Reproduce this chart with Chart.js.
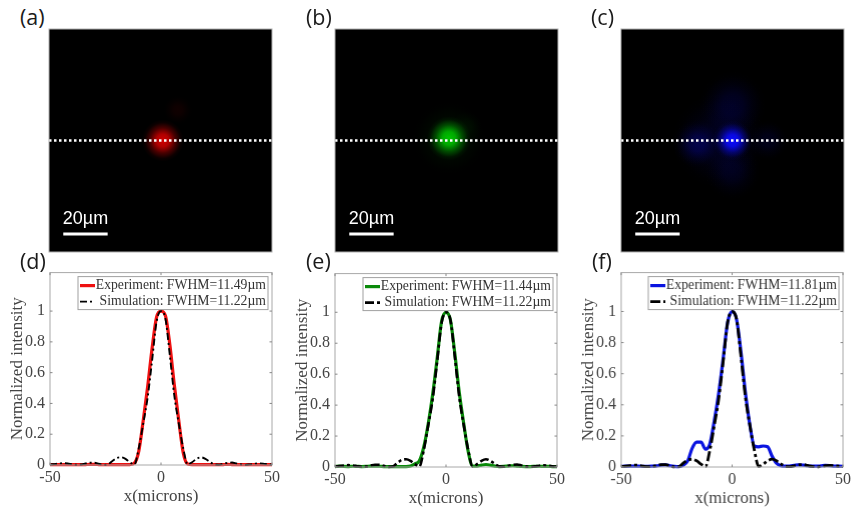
<!DOCTYPE html>
<html>
<head>
<meta charset="utf-8">
<script src="https://cdn.jsdelivr.net/npm/chart.js@4"></script>
<style>
  html, body { margin: 0; padding: 0; background: #fff; overflow: hidden; }
  canvas { position: absolute; filter: blur(0.35px); }
  .tag { position: absolute; font: 21.5px "Open Sans", sans-serif; color: #1a1a1a; line-height: 26px; }
</style>
</head>
<body>
<script>
// profile data
const xMicrons = [-50,-48,-46,-44,-42,-40,-38,-36,-34,-32,-30,-28,-26,-24,-22,-20,-18,-16,-14,-12,-10,-8,-6,-4,-2,0,
  2,4,6,8,10,12,14,16,18,20,22,24,26,28,30,32,34,36,38,40,42,44,46,48,50];
const simValues = [.003,.006,.009,.012,.01,.005,.002,.003,.01,.015,.015,.008,.001,.003,.025,.045,.05,.04,.018,.003,.11,.27,.44,.68,.93,1,
  .95,.71,.45,.27,.11,.004,.018,.04,.05,.04,.02,.004,.002,.008,.014,.016,.01,.004,.001,.004,.008,.011,.009,.005,.002];
const redValues = [.002,.003,.003,.002,.002,.003,.002,.002,.003,.004,.004,.003,.002,.002,.002,.002,.002,.002,.003,.012,.09,.29,.51,.76,.96,1,
  .97,.78,.52,.29,.08,.006,.002,.002,.002,.003,.002,.003,.002,.003,.004,.003,.002,.002,.002,.003,.002,.003,.002,.002,.002];
const greenValues = [.003,.006,.004,.003,.005,.004,.003,.004,.006,.006,.005,.003,.002,.003,.003,.003,.003,.006,.02,.04,.13,.28,.47,.7,.94,1,
  .95,.73,.48,.28,.1,.006,.006,.012,.016,.012,.006,.003,.004,.006,.008,.006,.004,.003,.003,.004,.005,.004,.004,.003,.003];
const blueValues = [.004,.006,.006,.005,.006,.004,.004,.005,.007,.012,.014,.008,.004,.002,.012,.04,.12,.16,.16,.115,.15,.3,.48,.7,.93,1,
  .95,.74,.48,.27,.135,.13,.135,.13,.07,.025,.008,.005,.006,.01,.014,.012,.008,.006,.005,.007,.01,.009,.006,.005,.004];
const yTicks = [0, 0.2, 0.4, 0.6, 0.8, 1];
const xTicks = [-50, 0, 50];
const expLabels = ['Experiment: FWHM=11.49µm', 'Experiment: FWHM=11.44µm', 'Experiment: FWHM=11.81µm'];
const simLabel = 'Simulation: FWHM=11.22µm';
const panelTags = ['(a)', '(b)', '(c)', '(d)', '(e)', '(f)'];

// beam spots in the photos: x, y in microns, r in px, strength 0-1
const redSpotX = [1, 7.8];
const redSpotY = [0, 13.7];
const redSpotR = [21, 15];
const redSpotA = [.9, .07];
const greenSpotX = [1.1, 1.1, 9];
const greenSpotY = [1, 1, 6];
const greenSpotR = [22, 38, 16];
const greenSpotA = [.9, .08, .04];
const blueSpotX = [-6, 0, 0, 0, -16, 16];
const blueSpotY = [0, 0, 16, -14, -1.5, 0];
const blueSpotR = [48, 20, 34, 28, 24, 20];
const blueSpotA = [.12, 1, .14, .1, .24, .1];
const dotLineX = [-50, 50];
const dotLineY = [0, 0];
const scaleBarX = [-43.6, -23.7];
const scaleBarY = [-41.9, -41.9];

function spots(xs, ys, rs, as) {
  return xs.map((x, i) => ({ x: x, y: ys[i], r: rs[i], a: as[i] }));
}

// box with inward ticks on all four sides, like a matlab axes
const boxAxes = {
  id: 'boxAxes',
  afterDatasetsDraw(chart) {
    const { ctx, chartArea: a, scales } = chart;
    ctx.save();
    ctx.strokeStyle = '#a8a8a8';
    ctx.lineWidth = 1;
    ctx.strokeRect(a.left, a.top, a.width, a.height);
    ctx.strokeStyle = '#888';
    ctx.beginPath();
    scales.x.ticks.forEach(t => {
      const px = scales.x.getPixelForValue(t.value);
      ctx.moveTo(px, a.bottom); ctx.lineTo(px, a.bottom - 2.5);
      ctx.moveTo(px, a.top); ctx.lineTo(px, a.top + 2.5);
    });
    scales.y.ticks.forEach(t => {
      const py = scales.y.getPixelForValue(t.value);
      ctx.moveTo(a.left, py); ctx.lineTo(a.left + 2.5, py);
      ctx.moveTo(a.right, py); ctx.lineTo(a.right - 2.5, py);
    });
    ctx.stroke();
    ctx.restore();
  }
};

// legend box top right, text is right aligned as in the original
const legendBox = {
  id: 'legendBox',
  afterDraw(chart) {
    const { ctx, chartArea: a } = chart;
    const w = 190, h = 33, left = a.right - w - 4, top = a.top + 4;
    ctx.save();
    ctx.fillStyle = '#fff';
    ctx.fillRect(left, top, w, h);
    ctx.strokeStyle = '#a0a0a0';
    ctx.lineWidth = 1;
    ctx.strokeRect(left, top, w, h);
    ctx.font = '13.7px "Liberation Serif"';
    ctx.textAlign = 'right';
    ctx.textBaseline = 'middle';
    chart.data.datasets.forEach((ds, i) => {
      const y = top + 9 + i * 16;
      ctx.strokeStyle = ds.borderColor;
      ctx.lineWidth = ds.borderWidth;
      ctx.setLineDash(ds.borderDash || []);
      ctx.beginPath();
      ctx.moveTo(left + 2, y); ctx.lineTo(left + 17, y);
      ctx.stroke();
      ctx.setLineDash([]);
      ctx.fillStyle = '#333';
      ctx.fillText(ds.label, left + w - 2, y);
    });
    ctx.restore();
  }
};

// black photo background, border and scale bar label
const photoFrame = {
  id: 'photoFrame',
  beforeDatasetsDraw(chart) {
    const { ctx, chartArea: a } = chart;
    ctx.save();
    ctx.fillStyle = '#000';
    ctx.fillRect(a.left, a.top, a.width, a.height);
    ctx.restore();
  },
  afterDatasetsDraw(chart) {
    const { ctx, chartArea: a, scales } = chart;
    ctx.save();
    ctx.strokeStyle = '#b0b0b0';
    ctx.lineWidth = 1;
    ctx.strokeRect(a.left, a.top, a.width, a.height);
    ctx.fillStyle = '#fff';
    ctx.font = '18px "Liberation Sans"';
    ctx.textAlign = 'center';
    ctx.textBaseline = 'alphabetic';
    ctx.fillText('20µm', scales.x.getPixelForValue((scaleBarX[0] + scaleBarX[1]) / 2), scales.y.getPixelForValue(scaleBarY[0]) - 10);
    ctx.restore();
  }
};

function spotColor(rgb) {
  return c => {
    if (!c.raw) return 'transparent';
    const { x, y } = c.chart.scales;
    const px = x.getPixelForValue(c.raw.x), py = y.getPixelForValue(c.raw.y);
    // scales have no size yet on the first pass
    if (!isFinite(px) || !isFinite(py)) return 'transparent';
    const g = c.chart.ctx.createRadialGradient(px, py, 0, px, py, c.raw.r);
    const alpha = k => 'rgba(' + rgb + ',' + c.raw.a * k + ')';
    g.addColorStop(0, alpha(1));
    g.addColorStop(.3, alpha(.85));
    g.addColorStop(.6, alpha(.35));
    g.addColorStop(.85, alpha(.06));
    g.addColorStop(1, alpha(0));
    return g;
  };
}

function addCanvas(left, top, width, height) {
  const canvas = document.createElement('canvas');
  canvas.width = width;
  canvas.height = height;
  canvas.style.left = left + 'px';
  canvas.style.top = top + 'px';
  canvas.style.width = width + 'px';
  canvas.style.height = height + 'px';
  document.body.appendChild(canvas);
  return canvas;
}

function photoChart(left, top, size, rgb, spotData) {
  new Chart(addCanvas(left - 1, top - 1, size + 2, size + 2), {
    type: 'scatter',
    data: {
      datasets: [
        {
          type: 'line', data: dotLineX.map((x, i) => ({ x: x, y: dotLineY[i] })),
          borderColor: '#fff', borderWidth: 2.5, borderDash: [2.5, 2.5], pointRadius: 0, order: 1
        },
        {
          type: 'line', data: scaleBarX.map((x, i) => ({ x: x, y: scaleBarY[i] })),
          borderColor: '#fff', borderWidth: 3, pointRadius: 0, order: 1
        },
        {
          type: 'bubble', data: spotData, backgroundColor: spotColor(rgb),
          borderWidth: 0, hoverRadius: 0, order: 2
        }
      ]
    },
    options: {
      responsive: false,
      animation: false,
      layout: { padding: 1, autoPadding: false },
      plugins: { legend: { display: false }, tooltip: { enabled: false } },
      scales: {
        x: { type: 'linear', min: -50, max: 50, display: false },
        y: { type: 'linear', min: -50, max: 50, display: false }
      }
    },
    plugins: [photoFrame]
  });
}

function profileChart(left, top, width, height, color, expValues, expLabel, simWidth, simDash) {
  const padTop = 12, padRight = 10, axisW = 50, axisH = 42;
  new Chart(addCanvas(left - axisW, top - padTop, width + axisW + padRight, height + padTop + axisH), {
    type: 'line',
    data: {
      datasets: [
        {
          label: expLabel, data: xMicrons.map((x, i) => ({ x: x, y: expValues[i] })),
          borderColor: color, borderWidth: 3.2, pointRadius: 0, cubicInterpolationMode: 'monotone', order: 2, clip: 3
        },
        {
          label: simLabel, data: xMicrons.map((x, i) => ({ x: x, y: simValues[i] })),
          borderColor: '#000', borderWidth: simWidth, borderDash: simDash, pointRadius: 0,
          cubicInterpolationMode: 'monotone', order: 1, clip: 3
        }
      ]
    },
    options: {
      responsive: false,
      animation: false,
      layout: { padding: { top: padTop, right: padRight, left: 0, bottom: 0 }, autoPadding: false },
      plugins: { legend: { display: false }, tooltip: { enabled: false } },
      scales: {
        x: {
          type: 'linear', min: -50, max: 50,
          grid: { display: false, drawTicks: false }, border: { display: false },
          afterBuildTicks: s => { s.ticks = xTicks.map(v => ({ value: v })); },
          afterFit: s => { s.height = axisH; },
          ticks: { color: '#444', font: { family: 'Liberation Serif', size: 16 }, padding: 3, maxRotation: 0 },
          title: { display: true, text: 'x(microns)', color: '#444', font: { family: 'Liberation Serif', size: 17 }, padding: { top: 0, bottom: 0 } }
        },
        y: {
          type: 'linear', min: 0, max: 1.25,
          grid: { display: false, drawTicks: false }, border: { display: false },
          afterBuildTicks: s => { s.ticks = yTicks.map(v => ({ value: v })); },
          afterFit: s => { s.width = axisW; },
          ticks: { color: '#444', font: { family: 'Liberation Serif', size: 16 }, padding: 5, callback: v => String(v) },
          title: { display: true, text: 'Normalized intensity', color: '#444', font: { family: 'Liberation Serif', size: 17 }, padding: { top: 7, bottom: 0 } }
        }
      }
    },
    plugins: [boxAxes, legendBox]
  });
}

photoChart(49, 29, 223, '230,0,0', spots(redSpotX, redSpotY, redSpotR, redSpotA));
photoChart(335, 29, 223, '0,215,0', spots(greenSpotX, greenSpotY, greenSpotR, greenSpotA));
photoChart(621, 29, 223, '10,10,255', spots(blueSpotX, blueSpotY, blueSpotR, blueSpotA));

profileChart(49.5, 269.5, 223, 195, '#ee1111', redValues, expLabels[0], 1.9, [7, 3, 2, 3]);
profileChart(335, 271, 223, 196, '#0a8a0a', greenValues, expLabels[1], 2.6, [9, 3, 3, 3]);
profileChart(621, 269.5, 222.5, 197.5, '#0a14e0', blueValues, expLabels[2], 2.8, [10, 3, 3, 3]);

const tagX = [20, 306, 591, 20, 306, 592];
const tagY = [4, 4, 4, 248, 248, 248];
panelTags.forEach((t, i) => {
  const d = document.createElement('div');
  d.className = 'tag';
  d.textContent = t;
  d.style.left = tagX[i] + 'px';
  d.style.top = tagY[i] + 'px';
  document.body.appendChild(d);
});
</script>
</body>
</html>
